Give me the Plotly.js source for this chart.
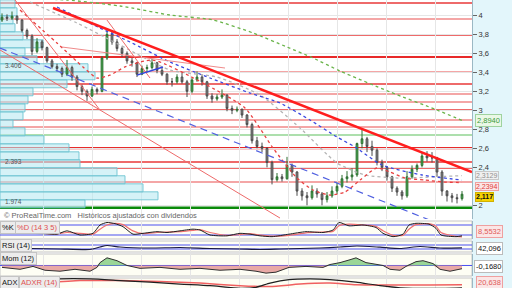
<!DOCTYPE html>
<html><head><meta charset="utf-8">
<script src="https://cdn.plot.ly/plotly-3.0.1.min.js"></script>
<style>html,body{margin:0;padding:0;background:#fff;}#chart{width:512px;height:288px;}</style>
</head><body><div id="chart"></div>
<script>
// ---------- DATA ----------
const candleIndex = [0,1,2,3,4,5,6,7,8,9,10,11,12,13,14,15,16,17,18,19,20,21,22,23,24,25,26,27,28,29,30,31,32,33,34,35,36,37,38,39,40,41,42,43,44,45,46,47,48,49,50,51,52,53,54,55,56,57,58,59,60,61,62,63,64,65,66,67,68,69,70,71,72,73,74,75,76,77,78,79,80,81,82,83,84,85,86,87,88,89,90,91,92];
const openP = [3.95,3.98,3.97,3.99,3.95,3.84,3.78,3.62,3.72,3.66,
 3.52,3.46,3.44,3.38,3.45,3.35,3.25,3.20,3.15,3.22,
 3.20,3.55,3.80,3.72,3.65,3.60,3.52,3.50,3.38,3.44,
 3.45,3.50,3.42,3.38,3.30,3.30,3.35,3.30,3.20,3.32,
 3.35,3.30,3.15,3.12,3.14,3.16,3.02,3.00,3.01,2.95,
 2.85,2.68,2.62,2.60,2.45,2.27,2.30,2.28,2.42,2.35,
 2.15,2.10,2.08,2.15,2.12,2.06,2.10,2.15,2.20,2.28,
 2.30,2.32,2.65,2.70,2.62,2.58,2.45,2.40,2.30,2.18,
 2.14,2.10,2.30,2.38,2.42,2.52,2.50,2.50,2.35,2.15,
 2.10,2.08,2.07];
const highP = [4.02,4.01,4.04,4.00,3.96,3.86,3.80,3.76,3.74,3.67,
 3.54,3.49,3.46,3.53,3.47,3.37,3.27,3.22,3.25,3.24,
 3.57,3.86,3.83,3.75,3.67,3.62,3.55,3.51,3.47,3.48,
 3.54,3.51,3.45,3.39,3.34,3.38,3.40,3.32,3.34,3.41,
 3.37,3.31,3.18,3.17,3.22,3.17,3.05,3.04,3.02,2.96,
 2.87,2.72,2.66,2.61,2.47,2.34,2.33,2.51,2.44,2.36,
 2.18,2.14,2.21,2.18,2.14,2.14,2.20,2.24,2.32,2.36,
 2.39,2.66,2.80,2.72,2.68,2.60,2.48,2.41,2.31,2.20,
 2.16,2.36,2.42,2.44,2.56,2.57,2.56,2.51,2.37,2.16,
 2.13,2.12,2.15];
const lowP = [3.93,3.94,3.95,3.91,3.82,3.75,3.58,3.60,3.63,3.50,
 3.44,3.41,3.35,3.36,3.31,3.21,3.16,3.10,3.14,3.17,
 3.19,3.53,3.69,3.62,3.56,3.49,3.46,3.35,3.37,3.40,
 3.43,3.39,3.36,3.27,3.25,3.28,3.28,3.14,3.18,3.30,
 3.26,3.12,3.08,3.10,3.12,2.99,2.96,2.98,2.92,2.82,
 2.65,2.60,2.56,2.40,2.22,2.25,2.25,2.27,2.30,2.10,
 2.05,2.00,2.06,2.08,2.00,2.03,2.08,2.12,2.18,2.24,
 2.26,2.30,2.60,2.56,2.52,2.42,2.36,2.26,2.14,2.10,
 2.06,2.08,2.28,2.35,2.40,2.46,2.45,2.30,2.10,2.04,
 2.03,2.02,2.05];
const closeP = [3.98,3.97,3.99,3.95,3.84,3.78,3.62,3.72,3.66,3.52,
 3.46,3.44,3.38,3.45,3.35,3.25,3.20,3.15,3.22,3.20,
 3.55,3.80,3.72,3.65,3.60,3.52,3.50,3.38,3.44,3.45,
 3.50,3.42,3.38,3.30,3.30,3.35,3.30,3.20,3.32,3.35,
 3.30,3.15,3.12,3.14,3.16,3.02,3.00,3.01,2.95,2.85,
 2.68,2.62,2.60,2.45,2.27,2.30,2.28,2.42,2.35,2.15,
 2.10,2.08,2.15,2.12,2.06,2.10,2.15,2.20,2.28,2.30,
 2.32,2.65,2.70,2.62,2.58,2.45,2.40,2.30,2.18,2.14,
 2.10,2.30,2.38,2.42,2.52,2.50,2.50,2.35,2.15,2.10,
 2.08,2.07,2.117];

// moving averages
const redMaX = [3.6,11,16.2,19,21.6,24.6,30.2,40.2,48.6,54.2,59,62.2,65.6,68.6,71.6,75,77.6,80.6,84.6,88.6,92];
const redMaY = [4.056,3.708,3.456,3.34,3.37,3.456,3.529,3.287,3.024,2.603,2.287,2.161,2.108,2.14,2.266,2.393,2.35,2.287,2.266,2.245,2.2394];
const grayMaX = [5.6,15,23.6,33.6,43,51.6,59.6,67,72.6,79.2,86,92];
const grayMaY = [4.14,3.919,3.687,3.424,3.35,3.161,2.814,2.445,2.319,2.287,2.298,2.3129];
const blueMaX = [11,19.6,25.6,33.6,41.6,49.6,55.6,61.6,67,70.6,76,84,92];
const blueMaY = [4.087,3.866,3.719,3.508,3.34,3.182,3.077,2.898,2.719,2.614,2.424,2.319,2.266];
const greenMaX = [5.6,13,23.6,33.6,42.2,50.2,57,62.2,67.6,77.6,87,92];
const greenMaY = [4.172,4.161,4.098,4.003,3.951,3.814,3.666,3.551,3.414,3.193,3.003,2.894];

// trend lines (index, price end points)
const trendX = [10.2,94];            const trendY = [4.077,2.35];
const channelX = [-0.4,94];          const channelY = [3.656,1.666];
const fanAX = [-0.4,55.6];           const fanAY = [3.635,1.866];
const fanBX = [2.6,19.6];            const fanBY = [4.161,3.003];
const fanCX = [12,44.6];             const fanCY = [3.666,3.445];
const fanDX = [21,29.6];             const fanDY = [3.95,3.34];
const blueSegX = [27,32.2];          const blueSegY = [3.37,3.455];

// horizontal levels
const strongLevels = [4.129,3.793,3.277,3.003,2.456,2.393];
const majorLevels = [3.561,2.603];
const weakLevels = [3.961,3.403,3.172,3.087,2.898,2.824,2.245];
const greenLevels = [2.740];
const supportLevels = [1.974];

// volume by price
const vpPrice = [2.016,2.100,2.184,2.269,2.353,2.437,2.521,2.605,2.690,2.774,2.858,2.942,3.026,3.111,3.195,3.279,3.363,3.448,3.532,3.616,3.700,3.784,3.869,3.953,4.037,4.121];
const vpVolume = [85,158,143,125,117,80,79,69,44,25,13,23,25,28,33,67,95,88,37,25,43,23,15,13,17,15];
const vpLabels = ['3.406','2.393','1.974'];
const vpLabelPrice = [3.406,2.393,1.974];

// price axis tick labels (2,2 is hidden behind the value tags in the original)
const priceTicks = [2,2.4,2.6,2.8,3,3.2,3.4,3.6,3.8,4];

// indicators
const stochX = [0,2.6,5.6,8.6,11,13,15.6,18.2,19.6,21,22.6,24.2,26.2,28.2,31,33,35.6,38.2,39.6,41.6,45,47.6,49.6,51.6,54,57.4,60.8,64.2,66.2,67.4,69.4,72.2,74.8,76.2,78.2,80.2,81.4,82.8,85.4,86.8,87.8,90.8,92];
const stochK = [35,40,30,28,25,45,20,30,80,95,88,70,25,30,40,35,45,55,50,20,15,30,25,15,10,25,40,35,50,95,75,80,65,30,10,25,80,90,85,60,20,10,15];
const stochD = [33,38,33,29,27,35,30,25,55,80,90,82,45,28,35,38,40,48,52,35,18,22,28,20,13,18,33,38,42,75,85,80,72,45,18,18,55,82,88,72,35,12,8.5532];
const rsiX = [6,11.6,17.6,19.6,21,23.6,29.6,35.6,41.6,47.6,51.6,55.6,59.6,63.6,67.6,71,75.6,79.6,83.6,87.6,92];
const rsiV = [35,30,25,50,65,50,40,45,35,30,25,30,35,40,50,60,48,35,55,40,42.096];
const momX = [0,3.6,6.2,8.6,11.6,14.6,17.6,19,19.6,21,23,25,27.6,31.6,35.6,39.6,43.6,47.6,50.8,52.8,54.8,57.4,60.8,64.2,65.6,67.6,69.6,70.8,72.8,76.2,77.6,79.6,80.8,82.8,84.2,86.2,87.6,89.6,92];
const momV = [-0.1,-0.2,-0.05,-0.25,-0.3,-0.2,-0.3,-0.1,0.15,0.4,0.25,0,-0.15,-0.1,-0.2,-0.15,-0.25,-0.2,-0.3,-0.4,-0.35,-0.1,-0.05,-0.1,0.05,0.15,0.3,0.4,0.15,0,-0.2,-0.25,-0.05,0.2,0.25,0.1,-0.2,-0.3,-0.168];
const adxX = [0.6,5.6,11.6,17.6,23.6,29.6,35.6,41.6,47.6,50.8,53.6,57.4,61.6,65.6,70.8,75.6,79.6,85.6,92];
const adxV = [24,35,46,46,39,32,24,17,6,10,28,43,46,43,32,17,8,5,8];
const adxrX = [0.6,7.6,15.6,23.6,31.6,39.6,47.6,53.6,59.6,65.6,70.8,77.6,85.6,92];
const adxrV = [17,28,39,39,35,28,17,13,24,28,21,20,20,20.638];

// ---------- LAYOUT HELPERS ----------
const H = 288, PW = 472;
const fy = py => 1 - py / H;
const fx = px => px / PW;
const FONT = 'Liberation Sans, Arial, sans-serif';
const gridX = [8.2,18,27.8,37.6,47.4,57.2,67,76.8,86.6];
const xr = [-0.4, 94];
const fmt = (v, d) => v.toFixed(d).replace('.', ',');

const traces = [];
traces.push({type:'bar', orientation:'h', y:vpPrice, x:vpVolume.map(v => v/5), base:xr[0], width:0.084,
  marker:{color:'rgba(178,232,240,0.55)', line:{color:'rgba(110,195,210,0.9)', width:1}}, xaxis:'x', yaxis:'y'});
traces.push({type:'candlestick', x:candleIndex, open:openP, high:highP, low:lowP, close:closeP, xaxis:'x', yaxis:'y',
  increasing:{fillcolor:'#3fae49', line:{color:'#2f6f33', width:1}},
  decreasing:{fillcolor:'#8c8c8c', line:{color:'#4a4a4a', width:1}}, whiskerwidth:0});
function line(x, y, color, width, dash, ax, ay) {
  return {type:'scatter', mode:'lines', x:x, y:y, xaxis:ax||'x', yaxis:ay||'y',
    line:{color:color, width:width, dash:dash||'solid', shape:'spline', smoothing:0.6}};
}
traces.push(line(greenMaX, greenMaY, '#6ab44a', 1.3, '3px,3px'));
traces.push(line(grayMaX, grayMaY, '#b4b4b4', 1.3, '3px,3px'));
traces.push(line(blueMaX, blueMaY, '#3a48e0', 1.3, '3px,3px'));
traces.push(line(redMaX, redMaY, '#e84040', 1.3, '3px,3px'));
traces.push(line(channelX, channelY, '#5060e0', 1.2, '7px,5px'));
traces.push(line(fanAX, fanAY, '#ee6a6a', 1));
traces.push(line(fanBX, fanBY, '#ee6a6a', 1));
traces.push(line(fanCX, fanCY, '#f08a8a', 1));
traces.push(line(fanDX, fanDY, '#ee6a6a', 1));
traces.push(line(blueSegX, blueSegY, '#3344dd', 1.5));
traces.push(line(trendX, trendY, '#ff1e1e', 2.5));
// stochastic
traces.push(line(stochX, stochD, '#f07070', 1.2, 'solid', 'x2', 'y2'));
traces.push(line(stochX, stochK, '#202020', 1, 'solid', 'x2', 'y2'));
// rsi
traces.push(line(rsiX, rsiV, '#1a1a40', 1.2, 'solid', 'x3', 'y3'));
// momentum
traces.push({type:'scatter', mode:'lines', x:momX, y:momV.map(v => Math.max(v, 0)), fill:'tozeroy', fillcolor:'rgba(120,200,120,0.75)', line:{width:0}, xaxis:'x4', yaxis:'y4'});
traces.push({type:'scatter', mode:'lines', x:momX, y:momV.map(v => Math.min(v, 0)), fill:'tozeroy', fillcolor:'rgba(225,140,140,0.75)', line:{width:0}, xaxis:'x4', yaxis:'y4'});
traces.push({type:'scatter', mode:'lines', x:momX, y:momV, line:{color:'#303030', width:1}, xaxis:'x4', yaxis:'y4'});
// adx
traces.push(line(adxrX, adxrV, '#f06060', 1.5, 'solid', 'x5', 'y5'));
traces.push(line(adxX, adxV, '#202020', 1.2, 'solid', 'x5', 'y5'));

// ---------- SHAPES ----------
const shapes = [];
shapes.push({type:'rect', xref:'paper', yref:'paper', x0:1, x1:512/PW, y0:0, y1:1, fillcolor:'#e3f6fb', line:{width:0}, layer:'below'});
const panels = [[221,239],[241,252],[254,276],[278,289]];
panels.forEach(p => shapes.push({type:'rect', xref:'paper', yref:'paper', x0:0, x1:1, y0:fy(p[1]), y1:fy(p[0]), fillcolor:'#fefef4', line:{color:'#c6c6c6', width:1}, layer:'below'}));
const hl = (lv, color, width) => ({type:'line', xref:'paper', x0:0, x1:1, yref:'y', y0:lv, y1:lv, line:{color:color, width:width}, layer:'below'});
weakLevels.forEach(l => shapes.push(hl(l, '#f4a6a6', 2)));
strongLevels.forEach(l => shapes.push(hl(l, '#e83838', 1.5)));
majorLevels.forEach(l => shapes.push(hl(l, '#e82a2a', 2.2)));
greenLevels.forEach(l => shapes.push(hl(l, '#5cc05c', 1.2)));
supportLevels.forEach(l => shapes.push(hl(l, '#0a8a0a', 2.5)));
const sl = (ay, v) => ({type:'line', xref:'paper', x0:0, x1:1, yref:ay, y0:v, y1:v, line:{color:'#4a50f0', width:1}, layer:'below'});
[80,20].forEach(v => shapes.push(sl('y2', v)));
[70,30].forEach(v => shapes.push(sl('y3', v)));
shapes.push(sl('y4', 0));

// ---------- ANNOTATIONS ----------
const ann = [];
ann.push({xref:'paper', yref:'paper', x:fx(2), y:fy(215), xanchor:'left', yanchor:'middle', showarrow:false,
  text:'© ProRealTime.com   Históricos ajustados con dividendos', font:{family:FONT, size:7.5, color:'#666'}});
vpLabels.forEach((t, i) => ann.push({xref:'paper', yref:'y', x:fx(3), y:vpLabelPrice[i], xanchor:'left', yanchor:'bottom', yshift:1, showarrow:false,
  text:t, font:{family:FONT, size:6.5, color:'#555'}}));
function tag(text, px, py, color, bg, border, bold, size) {
  ann.push({xref:'paper', yref:'paper', x:fx(px), y:fy(py), xanchor:'left', yanchor:'middle', showarrow:false,
    text: bold ? '<b>'+text+'</b>' : text, font:{family:FONT, size:size||7.5, color:color}, bgcolor:bg, bordercolor:border, borderwidth:1, borderpad:size ? 0 : 1});
}
tag(fmt(greenMaY[greenMaY.length-1], 4), 475, 121, '#3a9a3a', '#eaf8e6', '#9fd39f');
tag(fmt(grayMaY[grayMaY.length-1], 4), 475, 175.5, '#909090', '#f0f0f0', '#c8c8c8', false, 7);
tag(fmt(redMaY[redMaY.length-1], 4), 475, 186, '#e03a3a', '#fbe6e6', '#efa0a0', false, 7);
tag(fmt(closeP[closeP.length-1], 3), 475, 196.5, '#111', '#f6d200', '#d0b000', true, 7);
tag(fmt(stochD[stochD.length-1], 4), 476, 231.5, '#e05a5a', '#fbe6e6', '#efa0a0');
tag(fmt(rsiV[rsiV.length-1], 3), 476, 248, '#111', '#ffffff', '#bbbbbb');
tag(fmt(momV[momV.length-1], 4), 474, 266, '#111', '#ffffff', '#bbbbbb');
tag(fmt(adxrV[adxrV.length-1], 3), 476, 282.5, '#e05a5a', '#fbe6e6', '#efa0a0');
function plabel(parts, py) {
  let px = 0;
  parts.forEach(p => {
    ann.push({xref:'paper', yref:'paper', x:fx(px), y:fy(py), xanchor:'left', yanchor:'middle', showarrow:false,
      text:p[0], font:{family:FONT, size:7.5, color:p[1]}, bgcolor:'#ececec', bordercolor:'#c4c4c4', borderwidth:1, borderpad:1});
    px += p[2];
  });
}
plabel([['%K','#111',15],['%D (14 3 5)','#e05050',0]], 227);
plabel([['RSI (14)','#111',0]], 245);
plabel([['Mom (12)','#111',0]], 258.5);
plabel([['ADX','#111',19],['ADXR (14)','#e05050',0]], 282);

// ---------- AXES ----------
const subX = a => ({matches:'x', anchor:a, showticklabels:false, tickvals:gridX, showgrid:true, gridcolor:'#e6e6e6', zeroline:false, ticks:'', fixedrange:true});
const subY = (a, top, bottom, range) => ({anchor:a, domain:[fy(bottom), fy(top)], range:range, side:'right', showticklabels:false, showgrid:false, zeroline:false, ticks:'', showline:true, linecolor:'#9bb8c4'});
const layout = {
  width:512, height:288, margin:{l:0, r:40, t:0, b:0}, paper_bgcolor:'#ffffff', plot_bgcolor:'rgba(0,0,0,0)',
  showlegend:false, hovermode:false, separators:',.', dragmode:false, boxgap:0.5,
  xaxis:{range:xr, anchor:'y', showticklabels:false, tickvals:gridX, showgrid:true, gridcolor:'#e6e6e6', zeroline:false, ticks:'', rangeslider:{visible:false}, fixedrange:true},
  yaxis:{anchor:'x', domain:[fy(219), 1], range:[1.856, 4.161], side:'right', tickvals:priceTicks, ticks:'outside', ticklen:4, tickcolor:'#666',
    tickfont:{family:FONT, size:7.5, color:'#333'}, showgrid:true, gridcolor:'#e6e6e6', zeroline:false, showline:true, linecolor:'#9bb8c4', fixedrange:true},
  xaxis2:subX('y2'), yaxis2:subY('x2', 221, 239, [-4, 104]),
  xaxis3:subX('y3'), yaxis3:subY('x3', 241, 252, [0, 110]),
  xaxis4:subX('y4'), yaxis4:subY('x4', 254, 276, [-0.55, 0.6]),
  xaxis5:subX('y5'), yaxis5:subY('x5', 278, 289, [7, 50]),
  shapes:shapes, annotations:ann
};
Plotly.newPlot('chart', traces, layout, {staticPlot:true, displayModeBar:false});
</script></body></html>
